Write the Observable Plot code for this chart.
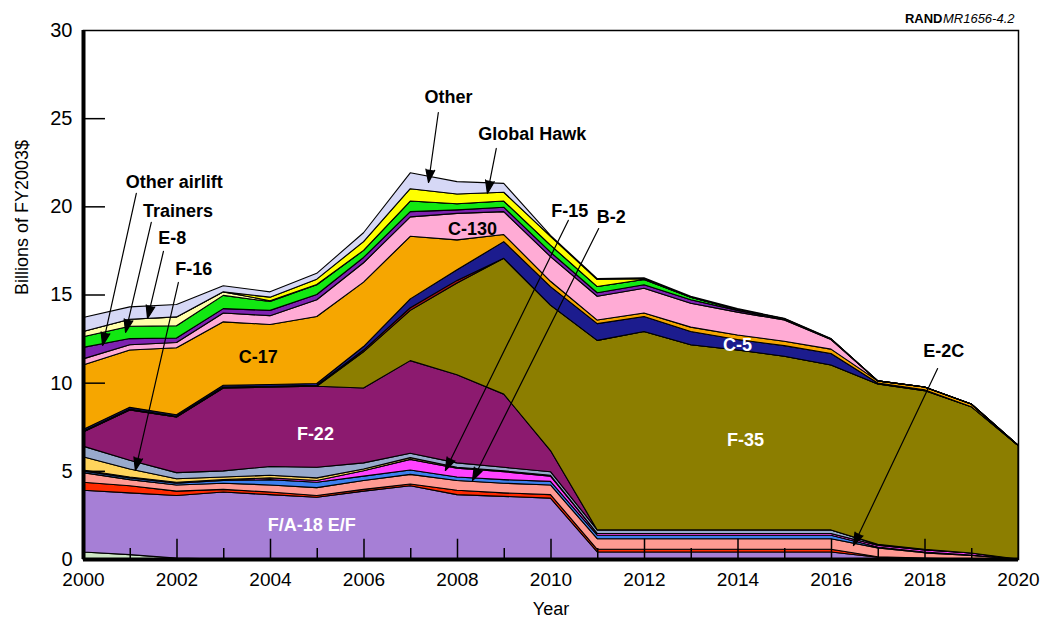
<!DOCTYPE html>
<html>
<head>
<meta charset="utf-8">
<script src="https://cdn.jsdelivr.net/npm/d3@7"></script>
<script src="https://cdn.jsdelivr.net/npm/@observablehq/plot@0.6"></script>
<style>
  html, body { margin: 0; padding: 0; background: #fff; }
  #chart svg { display: block; }
</style>
</head>
<body>
<div id="chart"></div>
<script>
// ---- Data (billions of FY2003$, thickness of each stacked layer) ----
const years = [2000, 2001, 2002, 2003, 2004, 2005, 2006, 2007, 2008, 2009, 2010,
               2011, 2012, 2013, 2014, 2015, 2016, 2017, 2018, 2019, 2020];

const misc       = [0.40,0.25,0.05,0,0,0,0,0,0,0,0,0,0,0,0,0,0,0,0,0,0];
const fa18ef     = [3.50,3.50,3.55,3.80,3.65,3.50,3.85,4.15,3.65,3.55,3.45,0.40,0.40,0.40,0.40,0.40,0.40,0.10,0.05,0,0];
const navyRed    = [0.45,0.40,0.25,0.15,0.15,0.10,0.10,0.10,0.25,0.20,0.20,0.15,0.15,0.15,0.15,0.15,0.15,0.03,0,0,0];
const e2c        = [0.55,0.35,0.35,0.35,0.40,0.45,0.50,0.55,0.55,0.55,0.55,0.60,0.60,0.60,0.60,0.60,0.60,0.50,0.30,0.20,0];
const b2         = [0.10,0.10,0.10,0.15,0.30,0.30,0.25,0.25,0.20,0.20,0.20,0.20,0.20,0.20,0.20,0.20,0.20,0.05,0.05,0.02,0];
const f15        = [0.05,0.05,0.05,0.05,0.10,0.10,0.30,0.60,0.50,0.45,0.30,0.10,0.10,0.10,0.10,0.10,0.10,0.10,0.12,0.12,0];
const f16        = [0.75,0.45,0.20,0.15,0.15,0.15,0.10,0.10,0.05,0.05,0.05,0,0,0,0,0,0,0,0,0,0];
const fighters   = [0.60,0.50,0.35,0.35,0.50,0.60,0.35,0.25,0.25,0.20,0.20,0.20,0.20,0.20,0.20,0.20,0.20,0.05,0.03,0,0];
const f22        = [0.80,2.85,3.15,4.70,4.50,4.60,4.25,5.25,5.00,4.15,1.20,0,0,0,0,0,0,0,0,0,0];
const f35        = [0,0,0,0,0,0,2.05,2.85,5.20,7.70,8.25,10.75,11.25,10.50,10.20,9.85,9.35,9.10,9.00,8.30,6.45];
const bomber     = [0.05,0.05,0.05,0.05,0.05,0.05,0.10,0.15,0.15,0,0,0,0,0,0,0,0,0,0,0,0];
const c5         = [0.10,0.10,0.08,0.10,0.10,0.10,0.20,0.50,0.60,0.95,1.05,0.95,0.85,0.75,0.60,0.60,0.65,0.05,0.05,0,0];
const c17        = [3.65,3.25,3.80,3.60,3.40,3.80,3.65,3.55,1.70,0.40,0.30,0.20,0.20,0.25,0.25,0.25,0.25,0.12,0.15,0.15,0];
const c130       = [0.35,0.30,0.30,0.50,0.50,0.95,1.10,1.10,1.50,1.30,1.40,1.35,1.40,1.35,1.30,1.20,0.55,0,0,0,0];
const otherAirlift = [0.65,0.35,0.25,0.25,0.30,0.30,0.30,0.30,0.20,0.25,0.25,0.20,0.20,0.20,0.10,0.05,0.02,0,0,0,0];
const trainers   = [0.60,0.70,0.70,0.75,0.50,0.55,0.40,0.60,0.35,0.35,0.40,0.35,0.30,0.15,0.05,0.02,0.01,0,0,0,0];
const e8         = [0.30,0.40,0.50,0.20,0.05,0.02,0,0,0,0,0,0,0,0,0,0,0,0,0,0,0];
const globalHawk = [0,0,0,0,0.20,0.30,0.50,0.70,0.55,0.50,0.50,0.40,0.05,0,0,0,0,0,0,0,0];
const other      = [0.80,0.70,0.70,0.35,0.30,0.33,0.50,0.90,0.70,0.50,0.05,0.05,0.05,0.05,0.05,0.03,0.02,0,0,0,0];

// bottom -> top stacking order
const seriesNames = ["Misc", "F/A-18 E/F", "Navy red", "E-2C", "B-2", "F-15", "F-16", "Fighters",
  "F-22", "F-35", "Bomber", "C-5", "C-17", "C-130", "Other airlift", "Trainers", "E-8", "Global Hawk", "Other"];
const seriesData = [misc, fa18ef, navyRed, e2c, b2, f15, f16, fighters,
  f22, f35, bomber, c5, c17, c130, otherAirlift, trainers, e8, globalHawk, other];
const seriesColors = ["#cfe8c6", "#a67fd6", "#ff2a00", "#ff9a92", "#3d80ee", "#ff42ff", "#ffd45c", "#98aacd",
  "#8c1a6f", "#8c7e00", "#a01212", "#1c1c8e", "#f6a600", "#ffabd5", "#7e22b0", "#12e812", "#ffffaa", "#ffff00", "#d6d8f6"];

const yTicks = [0, 5, 10, 15, 20, 25, 30];
const xTicks = [2000, 2002, 2004, 2006, 2008, 2010, 2012, 2014, 2016, 2018, 2020];
const evenInner = [2002, 2004, 2006, 2008, 2010, 2012, 2014, 2016, 2018];
const oddInner = [2001, 2003, 2005, 2007, 2009, 2011, 2013, 2015, 2017, 2019];
const innerYTicks = [5, 10, 15, 20, 25];

// annotations in data coordinates
const whiteLabels = [
  {name: "F-22", x: 2004.96, y: 6.75},
  {name: "F-35", x: 2014.16, y: 6.41},
  {name: "F/A-18 E/F", x: 2004.88, y: 1.59},
  {name: "C-5", x: 2013.99, y: 11.85}
];
const blackLabels = [
  {name: "Other", x: 2007.81, y: 25.87},
  {name: "Global Hawk", x: 2009.60, y: 23.77},
  {name: "Other airlift", x: 2001.94, y: 21.04},
  {name: "Trainers", x: 2002.02, y: 19.40},
  {name: "E-8", x: 2001.90, y: 17.87},
  {name: "F-16", x: 2002.36, y: 16.11},
  {name: "F-15", x: 2010.40, y: 19.40},
  {name: "B-2", x: 2011.29, y: 19.06},
  {name: "C-130", x: 2008.32, y: 18.38},
  {name: "C-17", x: 2003.74, y: 11.17},
  {name: "E-2C", x: 2018.40, y: 11.46}
];
const arrows = [
  {x1: 2007.59, y1: 25.35, x2: 2007.38, y2: 21.38},
  {x1: 2008.83, y1: 23.31, x2: 2008.64, y2: 20.76},
  {x1: 2001.13, y1: 20.76, x2: 2000.41, y2: 12.14},
  {x1: 2001.45, y1: 19.12, x2: 2000.90, y2: 12.88},
  {x1: 2001.71, y1: 17.47, x2: 2001.37, y2: 13.67},
  {x1: 2002.03, y1: 15.71, x2: 2001.11, y2: 5.05},
  {x1: 2010.37, y1: 19.23, x2: 2007.74, y2: 5.05},
  {x1: 2011.02, y1: 18.77, x2: 2008.32, y2: 4.48},
  {x1: 2018.27, y1: 10.83, x2: 2016.47, y2: 0.79}
];

// long table for the stacked areas
const rows = [];
seriesNames.forEach((name, s) => {
  seriesData[s].forEach((v, i) => rows.push({year: years[i], series: name, value: v}));
});

const font = "'Liberation Sans', Arial, Helvetica, sans-serif";

const chart = Plot.plot({
  width: 1041,
  height: 629,
  marginLeft: 83,
  marginRight: 23,
  marginTop: 30,
  marginBottom: 70,
  style: {fontFamily: font, background: "white", color: "black", overflow: "visible"},
  x: {domain: [2000, 2020]},
  y: {domain: [0, 30]},
  color: {domain: seriesNames, range: seriesColors},
  marks: [
    Plot.areaY(rows, {
      x: "year", y: "value", z: "series", fill: "series",
      order: seriesNames, stroke: "black", strokeWidth: 1.1, strokeLinejoin: "round"
    }),
    Plot.ruleX(evenInner, {y1: 0, y2: 1.15, stroke: "black", strokeWidth: 1.5}),
    Plot.ruleX(oddInner, {y1: 0, y2: 0.62, stroke: "black", strokeWidth: 1.5}),
    Plot.ruleY(innerYTicks, {x1: 2000, x2: 2000.47, stroke: "black", strokeWidth: 1.5}),
    Plot.frame({stroke: "black", strokeWidth: 1.5}),
    Plot.ruleX([2000], {stroke: "black", strokeWidth: 4}),
    Plot.ruleY([0], {stroke: "black", strokeWidth: 4}),
    Plot.axisY({ticks: yTicks, tickSize: 0, tickPadding: 11, fontSize: 20, label: null}),
    Plot.axisX({ticks: xTicks, tickSize: 0, tickPadding: 13, fontSize: 19, label: null, tickFormat: d => String(d)}),
    Plot.text(["Billions of FY2003$"], {frameAnchor: "left", dx: -61, rotate: -90, fontSize: 18, text: d => d}),
    Plot.text(["Year"], {frameAnchor: "bottom", dy: 55, fontSize: 18, text: d => d}),
    Plot.text(["MR1656-4.2"], {frameAnchor: "top-right", dx: -4, dy: -17, textAnchor: "end", fontStyle: "italic", fontSize: 13, text: d => d}),
    Plot.text(["RAND"], {frameAnchor: "top-right", dx: -76, dy: -17, textAnchor: "end", fontWeight: "bold", fontSize: 13, text: d => d}),
    Plot.arrow(arrows, {x1: "x1", y1: "y1", x2: "x2", y2: "y2", stroke: "black", fill: "black", strokeWidth: 1.2, headLength: 17, headAngle: 38}),
    Plot.text(blackLabels, {x: "x", y: "y", text: "name", fill: "black", fontWeight: "bold", fontSize: 18, lineAnchor: "bottom"}),
    Plot.text(whiteLabels, {x: "x", y: "y", text: "name", fill: "white", fontWeight: "bold", fontSize: 18, lineAnchor: "bottom"})
  ]
});

document.getElementById("chart").appendChild(chart);
</script>
</body>
</html>
